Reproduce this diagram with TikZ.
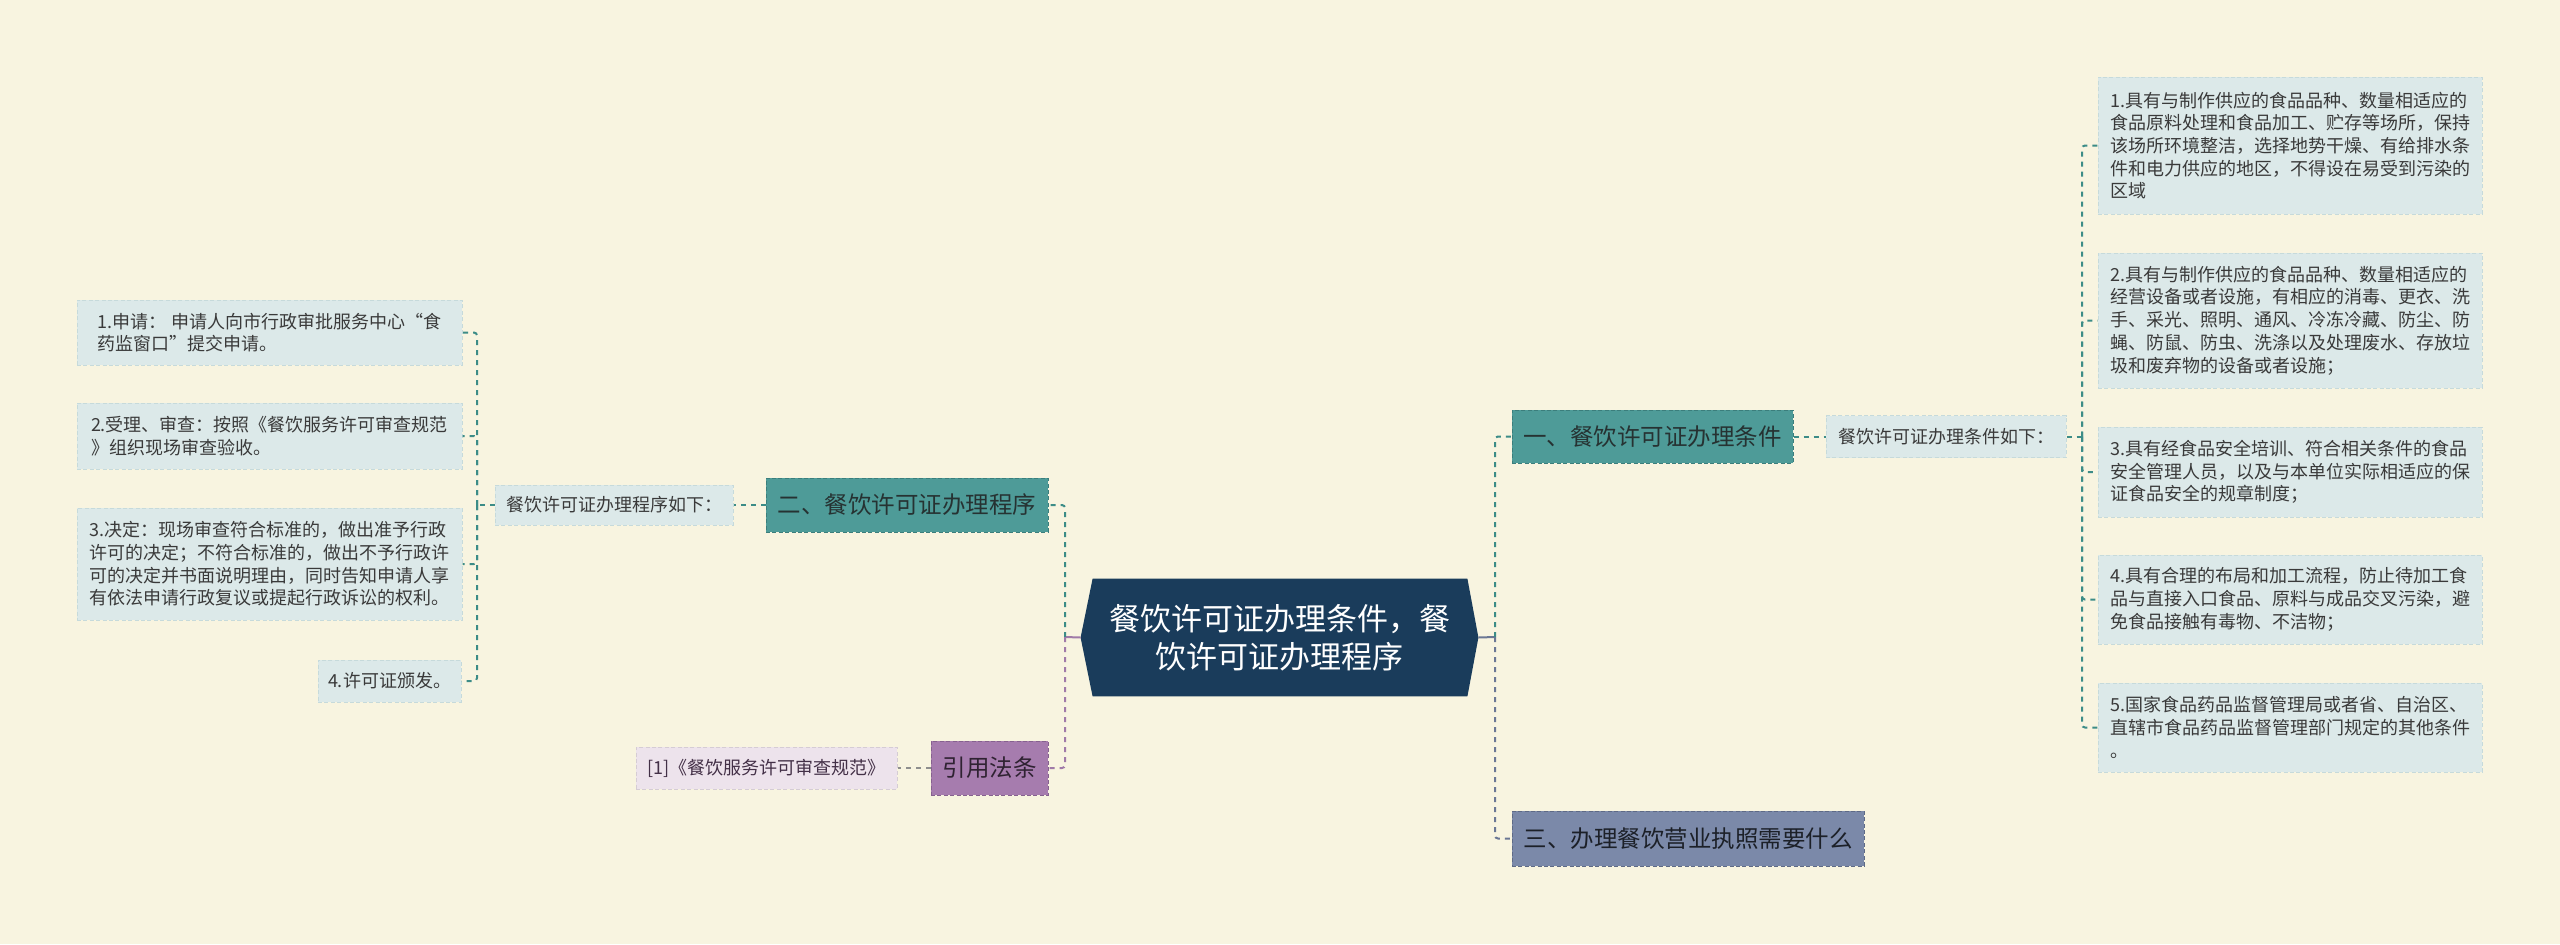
\documentclass[tikz,border=0pt]{standalone}
\usepackage{fontspec}
\newfontfamily\cjk{Noto Sans CJK SC}
\usetikzlibrary{calc,backgrounds}
\definecolor{bg}{HTML}{F8F4E0}
\definecolor{rootfill}{HTML}{1A3C5B}
\definecolor{tealfill}{HTML}{4E9B98}
\definecolor{tealborder}{HTML}{3B7E7C}
\definecolor{tealc}{HTML}{3C8C87}
\definecolor{leaffill}{HTML}{DCE9E9}
\definecolor{leafborder}{HTML}{C6DADB}
\definecolor{slatefill}{HTML}{7B89A9}
\definecolor{slateborder}{HTML}{5E6A86}
\definecolor{slatec}{HTML}{6B7794}
\definecolor{purplefill}{HTML}{A67CAE}
\definecolor{purpleborder}{HTML}{86618F}
\definecolor{purplec}{HTML}{A07AA8}
\definecolor{reffill}{HTML}{EDE3EC}
\definecolor{grayc}{HTML}{8E8E8E}
\definecolor{darktext}{HTML}{263232}
\definecolor{leaftext}{HTML}{3A3A3A}
\tikzset{
  boxbase/.style={inner sep=0pt, line width=0.5pt, dash pattern=on 2pt off 1.2pt},
  leafbox/.style={boxbase, align=left, fill=leaffill, draw=leafborder, text=leaftext,
    font=\cjk\fontsize{9pt}{11.35pt}\selectfont},
  subbox/.style={leafbox, align=center},
  tealbox/.style={boxbase, align=center, fill=tealfill, draw=tealborder, text=darktext,
    font=\cjk\fontsize{11.75pt}{14pt}\selectfont},
  slatebox/.style={tealbox, fill=slatefill, draw=slateborder, text=HTML2A303D},
  purplebox/.style={tealbox, fill=purplefill, draw=purpleborder, text=HTML38283C},
  refbox/.style={leafbox, align=center, fill=reffill, draw=reffill!90!black, text=HTML4A3C4A},
  rootbox/.style={inner sep=0pt, align=center, text=white,
    font=\cjk\fontsize{15.5pt}{19pt}\selectfont},
  conn/.style={line width=1pt, dash pattern=on 2.5pt off 2.5pt, rounded corners=1.5pt},
  stub/.style={line width=1pt}
}
\colorlet{HTML2A303D}{slateborder!30!black}
\colorlet{HTML38283C}{purpleborder!35!black}
\colorlet{HTML4A3C4A}{purpleborder!50!black}
\begin{document}
\begin{tikzpicture}[x=0.5pt,y=-0.5pt]
\begin{scope}[on background layer]
  \fill[bg] (0,0) rectangle (2560,944);
\end{scope}
\useasboundingbox (0,0) rectangle (2560,944);

% root
\node[rootbox, minimum width=198.5pt, minimum height=58.5pt] (root) at (1279.5,637.5)
  {餐饮许可证办理条件，餐\\饮许可证办理程序};
\begin{scope}[on background layer]
  \fill[rootfill] (root.west) -- ($(root.north west)+(12,0)$) -- ($(root.north east)+(-11,0)$)
    -- (root.east) -- ($(root.south east)+(-11,0)$) -- ($(root.south west)+(12,0)$) -- cycle;
\end{scope}

% right side
\node[tealbox, minimum width=140.5pt, minimum height=26.5pt] (b1) at (1652.5,436.5) {一、餐饮许可证办理条件};
\node[subbox, minimum width=120pt, minimum height=21pt] (s1) at (1946,436.5) {餐饮许可证办理条件如下：};
\node[leafbox, minimum width=192pt, minimum height=68.5pt] (r1) at (2290,145.5)
  {1.具有与制作供应的食品品种、数量相适应的\\食品原料处理和食品加工、贮存等场所，保持\\该场所环境整洁，选择地势干燥、有给排水条\\件和电力供应的地区，不得设在易受到污染的\\区域};
\node[leafbox, minimum width=192pt, minimum height=67.5pt] (r2) at (2290,320.5)
  {2.具有与制作供应的食品品种、数量相适应的\\经营设备或者设施，有相应的消毒、更衣、洗\\手、采光、照明、通风、冷冻冷藏、防尘、防\\蝇、防鼠、防虫、洗涤以及处理废水、存放垃\\圾和废弃物的设备或者设施；};
\node[leafbox, minimum width=192pt, minimum height=45pt] (r3) at (2290,472)
  {3.具有经食品安全培训、符合相关条件的食品\\安全管理人员，以及与本单位实际相适应的保\\证食品安全的规章制度；};
\node[leafbox, minimum width=192pt, minimum height=44.5pt] (r4) at (2290,599.5)
  {4.具有合理的布局和加工流程，防止待加工食\\品与直接入口食品、原料与成品交叉污染，避\\免食品接触有毒物、不洁物；};
\node[leafbox, minimum width=192pt, minimum height=44.5pt] (r5) at (2290,727.5)
  {5.国家食品药品监督管理局或者省、自治区、\\直辖市食品药品监督管理部门规定的其他条件\\。};
\node[slatebox, minimum width=176pt, minimum height=27.5pt] (b3) at (1688,838.5) {三、办理餐饮营业执照需要什么};

% left side
\node[tealbox, minimum width=141pt, minimum height=27pt] (b2) at (907,505) {二、餐饮许可证办理程序};
\node[subbox, minimum width=119pt, minimum height=20pt] (s2) at (614,505) {餐饮许可证办理程序如下：};
\node[leafbox, minimum width=192.5pt, minimum height=32.5pt] (l1) at (269.5,332.5)
  {1.申请： 申请人向市行政审批服务中心“食\\药监窗口”提交申请。};
\node[leafbox, minimum width=192.5pt, minimum height=33pt] (l2) at (269.5,436)
  {2.受理、审查：按照《餐饮服务许可审查规范\\》组织现场审查验收。};
\node[leafbox, minimum width=192.5pt, minimum height=56pt] (l3) at (269.5,564)
  {3.决定：现场审查符合标准的，做出准予行政\\许可的决定；不符合标准的，做出不予行政许\\可的决定并书面说明理由，同时告知申请人享\\有依法申请行政复议或提起行政诉讼的权利。};
\node[leafbox, minimum width=71.5pt, minimum height=21pt] (l4) at (389.5,681) {4.许可证颁发。};
\node[purplebox, minimum width=58.5pt, minimum height=27pt] (b4) at (989.5,768) {引用法条};
\node[refbox, minimum width=130.5pt, minimum height=21pt] (ref) at (766.5,768) {[1]《餐饮服务许可审查规范》};

% junctions
\coordinate (rj) at (1495,637);
\coordinate (lj) at (1065,637);
\coordinate (rb) at (2082,436.5);
\coordinate (lb) at (477,505);

% connectors
\draw[stub, slatec] (root.east) -- (rj);
\draw[stub, purplec] (root.west) -- (lj);
\draw[conn, tealc] (rj) |- (b1.west);
\draw[conn, slatec] (rj) |- (b3.west);
\draw[conn, tealc] (lj) |- (b2.east);
\draw[conn, purplec] (lj) |- (b4.east);
\draw[conn, tealc] (b1.east) -- (s1.west);
\draw[conn, tealc] (s1.east) -- (rb);
\foreach \n in {r1,r2,r3,r4,r5} \draw[conn, tealc] (rb) |- (\n.west);
\draw[conn, tealc] (b2.west) -- (s2.east);
\draw[conn, tealc] (s2.west) -- (lb);
\foreach \n in {l1,l2,l3,l4} \draw[conn, tealc] (lb) |- (\n.east);
\draw[conn, grayc] (b4.west) -- (ref.east);
\end{tikzpicture}
\end{document}
